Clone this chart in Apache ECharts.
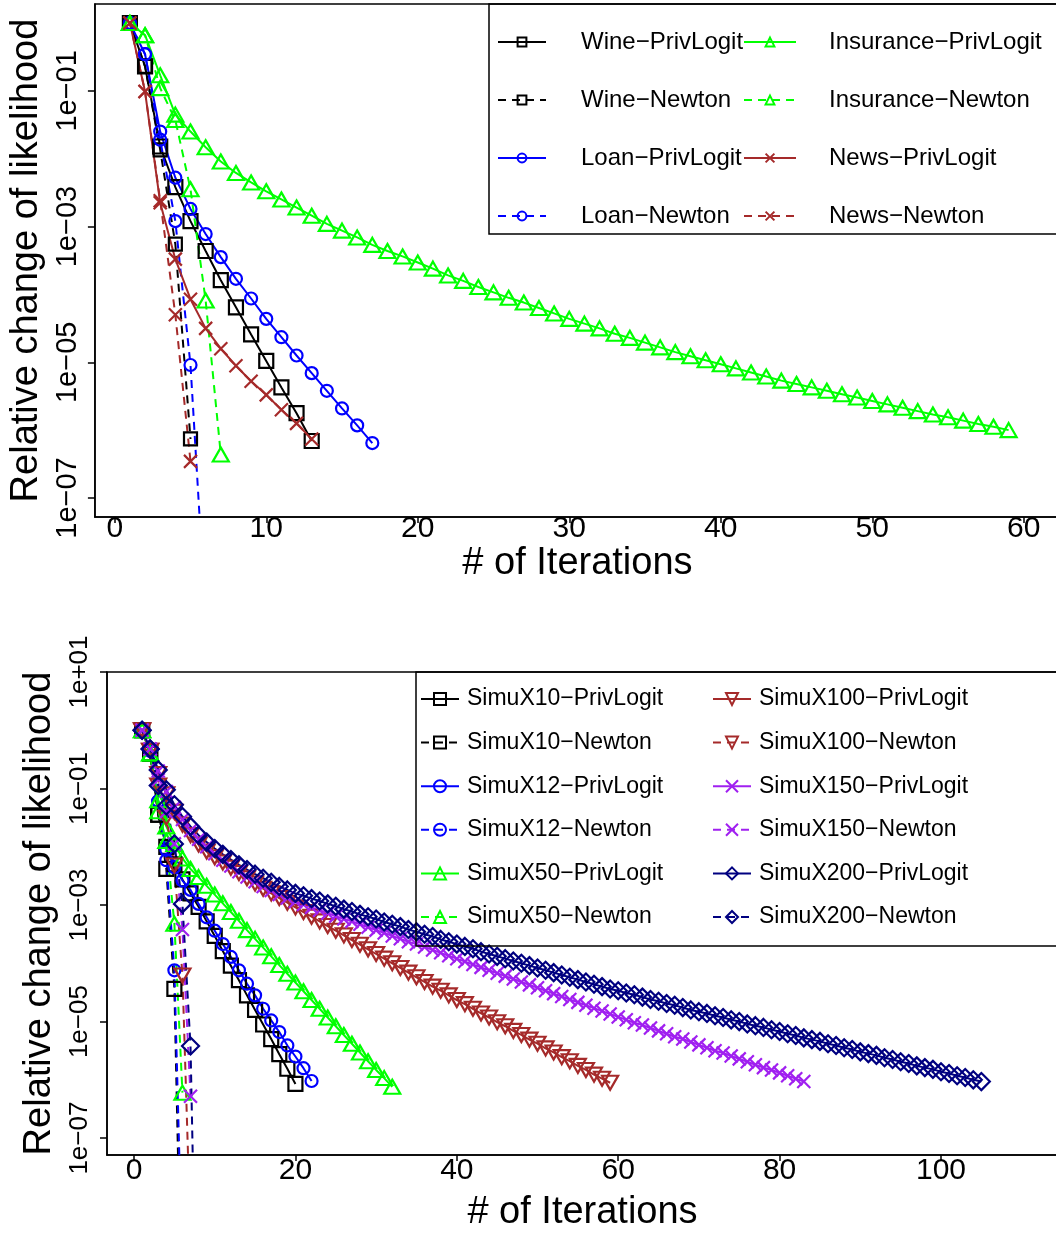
<!DOCTYPE html>
<html><head><meta charset="utf-8">
<script src="https://cdn.jsdelivr.net/npm/echarts@6/dist/echarts.min.js"></script>
<style>html,body{margin:0;padding:0;background:#fff;overflow:hidden;width:1056px;height:1233px}#c{width:1130px;height:1233px}</style>
</head><body><div id="c"></div>
<script>
// ---- tick labels ----
const topIterTicks = [0, 10, 20, 30, 40, 50, 60];
const bottomIterTicks = [0, 20, 40, 60, 80, 100];
const topYTicks = [1e-7, 1e-5, 1e-3, 1e-1];
const bottomYTicks = [1e-7, 1e-5, 1e-3, 1e-1, 1e1];
const threshold = 1e-6;

// ---- series values: log10 of relative change of likelihood, iteration 1..n ----
// top panel
const wineLogit = [0,-0.64,-1.82,-2.42,-2.92,-3.36,-3.79,-4.19,-4.59,-4.98,-5.37,-5.75,-6.16];
const wineNewton = [0,-0.64,-1.87,-3.26,-6.13];
const loanLogit = [0,-0.46,-1.60,-2.28,-2.74,-3.11,-3.45,-3.77,-4.06,-4.36,-4.63,-4.90,-5.16,-5.42,-5.68,-5.93,-6.19];
const loanNewton = [0,-0.46,-1.72,-2.92,-5.04,-8.77];
const insuranceLogit = [0,-0.18,-0.77,-1.35,-1.60,-1.83,-2.04,-2.21,-2.35,-2.48,-2.60,-2.72,-2.84,-2.96,-3.06,-3.16,-3.27,-3.36,-3.44,-3.53,
  -3.62,-3.72,-3.80,-3.89,-3.97,-4.05,-4.12,-4.20,-4.28,-4.36,-4.43,-4.50,-4.58,-4.64,-4.71,-4.78,-4.85,-4.91,-4.97,-5.03,
  -5.09,-5.15,-5.21,-5.27,-5.32,-5.37,-5.42,-5.47,-5.52,-5.57,-5.62,-5.67,-5.72,-5.77,-5.81,-5.86,-5.91,-5.95,-6.00];
const insuranceNewton = [0,-0.18,-0.96,-1.43,-2.45,-4.09,-6.36];
const newsLogit = [0,-1.01,-2.65,-3.48,-4.07,-4.50,-4.80,-5.05,-5.28,-5.48,-5.70,-5.90,-6.13];
const newsNewton = [0,-1.01,-2.62,-4.30,-6.46];

// bottom panel
const x10Logit = [0,-0.40,-1.45,-2.00,-2.30,-2.56,-2.80,-3.03,-3.28,-3.53,-3.79,-4.04,-4.29,-4.55,-4.80,-5.05,-5.30,-5.56,-5.81,-6.07];
const x10Newton = [0,-0.40,-1.45,-2.38,-4.44,-10.8];
const x12Logit = [0,-0.35,-1.22,-2.05,-2.35,-2.58,-2.74,-2.98,-3.21,-3.44,-3.67,-3.89,-4.12,-4.35,-4.55,-4.78,-4.98,-5.18,-5.41,-5.60,-5.80,-6.02];
const x12Newton = [0,-0.35,-1.22,-2.23,-4.12,-9.3];
const x50Logit = [0,-0.40,-1.20,-1.65,-1.95,-2.20,-2.38,-2.52,-2.67,-2.82,-2.97,-3.12,-3.27,-3.43,-3.58,-3.73,-3.88,-4.03,-4.18,-4.33,
  -4.48,-4.63,-4.78,-4.93,-5.08,-5.23,-5.38,-5.53,-5.68,-5.83,-5.97,-6.12];
const x50Newton = [0,-0.40,-1.39,-1.90,-3.32,-6.22];
const x100Logit = [0,-0.35,-0.75,-1.10,-1.40,-1.62,-1.80,-1.96,-2.08,-2.18,-2.27,-2.36,-2.45,-2.54,-2.63,-2.72,-2.80,-2.88,-2.96,-3.04,
  -3.12,-3.20,-3.28,-3.36,-3.44,-3.52,-3.60,-3.68,-3.76,-3.84,-3.92,-4.00,-4.08,-4.16,-4.24,-4.32,-4.40,-4.47,-4.55,-4.63,
  -4.70,-4.78,-4.86,-4.93,-5.01,-5.08,-5.16,-5.23,-5.31,-5.38,-5.46,-5.53,-5.61,-5.68,-5.76,-5.83,-5.91,-5.98,-6.05];
const x100Newton = [0,-0.35,-0.95,-1.50,-2.32,-4.21,-8.66];
const x150Logit = [0,-0.32,-0.70,-1.05,-1.32,-1.53,-1.72,-1.87,-2.00,-2.12,-2.23,-2.33,-2.43,-2.52,-2.60,-2.68,-2.75,-2.82,-2.88,-2.94,
  -2.99,-3.04,-3.09,-3.14,-3.19,-3.24,-3.28,-3.33,-3.38,-3.43,-3.48,-3.53,-3.58,-3.63,-3.67,-3.72,-3.77,-3.82,-3.87,-3.92,
  -3.97,-4.02,-4.07,-4.12,-4.17,-4.22,-4.27,-4.32,-4.37,-4.42,-4.47,-4.52,-4.57,-4.62,-4.67,-4.72,-4.77,-4.82,-4.87,-4.92,
  -4.97,-5.02,-5.06,-5.11,-5.16,-5.21,-5.26,-5.30,-5.35,-5.40,-5.45,-5.50,-5.54,-5.59,-5.64,-5.69,-5.74,-5.79,-5.83,-5.88,
  -5.93,-5.98,-6.03];
const x150Newton = [0,-0.32,-0.85,-1.40,-1.95,-3.42,-6.28];
const x200Logit = [0,-0.32,-0.68,-1.02,-1.28,-1.48,-1.65,-1.80,-1.92,-2.03,-2.13,-2.22,-2.31,-2.39,-2.47,-2.54,-2.61,-2.68,-2.74,-2.80,
  -2.84,-2.89,-2.93,-2.98,-3.02,-3.07,-3.11,-3.16,-3.20,-3.24,-3.29,-3.33,
  -3.37,-3.42,-3.46,-3.50,-3.54,-3.59,-3.63,-3.67,-3.71,-3.75,-3.80,-3.84,-3.88,
  -3.92,-3.96,-4.00,-4.04,-4.08,-4.12,-4.16,-4.20,-4.24,-4.28,-4.32,-4.36,-4.40,
  -4.44,-4.47,-4.51,-4.54,-4.58,-4.62,-4.65,-4.69,-4.72,-4.76,-4.80,-4.83,
  -4.86,-4.90,-4.93,-4.97,-5.00,-5.04,-5.07,-5.10,-5.14,-5.17,-5.21,-5.24,-5.28,-5.31,-5.34,-5.38,-5.41,-5.45,-5.48,-5.52,
  -5.55,-5.58,-5.62,-5.65,-5.69,-5.72,-5.76,-5.79,-5.82,-5.86,-5.89,-5.93,-5.96,-6.00,-6.03];
const x200Newton = [0,-0.32,-0.95,-1.30,-1.95,-2.98,-5.42,-12.3];

// ---- styling ----
const FONT = "'Liberation Sans', Arial, Helvetica, sans-serif";
const C = {black:'#000000', blue:'#0000FF', green:'#00FF00', brown:'#A52A2A', purple:'#A020F0', navy:'#000080', red:'#FF0000'};
const SYM = {
  square: 'rect', circle: 'circle', triangle: 'triangle', diamond: 'diamond',
  cross: 'path://M0,0L10,10M10,0L0,10'
};

function line(name, vals, g, color, symbol, size, dashed, rotate) {
  return {
    name: name, type: 'line', xAxisIndex: g, yAxisIndex: g,
    data: vals.map((e, k) => [k + 1, Math.pow(10, e)]),
    symbol: symbol, symbolSize: size, symbolRotate: rotate || 0,
    showAllSymbol: true, clip: true, animation: false,
    lineStyle: {color: color, width: 2, type: dashed ? [8, 6] : 'solid'},
    itemStyle: {color: 'rgba(0,0,0,0)', borderColor: color, borderWidth: 2.2},
    emphasis: {disabled: true}
  };
}
function expLabel(v) {
  const e = Math.round(Math.log10(v));
  return '1e' + (e < 0 ? '\u2212' : '+') + String(Math.abs(e)).padStart(2, '0');
}

const series = [
  line('Wine\u2212PrivLogit', wineLogit, 0, C.black, SYM.square, 14, false),
  line('Wine\u2212Newton', wineNewton, 0, C.black, SYM.square, 13, true),
  line('Loan\u2212PrivLogit', loanLogit, 0, C.blue, SYM.circle, 12, false),
  line('Loan\u2212Newton', loanNewton, 0, C.blue, SYM.circle, 12, true),
  line('Insurance\u2212PrivLogit', insuranceLogit, 0, C.green, SYM.triangle, [16, 14], false),
  line('Insurance\u2212Newton', insuranceNewton, 0, C.green, SYM.triangle, [16, 14], true),
  line('News\u2212PrivLogit', newsLogit, 0, C.brown, SYM.cross, 13, false),
  line('News\u2212Newton', newsNewton, 0, C.brown, SYM.cross, 13, true),

  line('SimuX10\u2212PrivLogit', x10Logit, 1, C.black, SYM.square, 14, false),
  line('SimuX10\u2212Newton', x10Newton, 1, C.black, SYM.square, 14, true),
  line('SimuX12\u2212PrivLogit', x12Logit, 1, C.blue, SYM.circle, 12, false),
  line('SimuX12\u2212Newton', x12Newton, 1, C.blue, SYM.circle, 12, true),
  line('SimuX50\u2212PrivLogit', x50Logit, 1, C.green, SYM.triangle, [16, 14], false),
  line('SimuX50\u2212Newton', x50Newton, 1, C.green, SYM.triangle, [16, 14], true),
  line('SimuX100\u2212PrivLogit', x100Logit, 1, C.brown, SYM.triangle, [16, 14], false, 180),
  line('SimuX100\u2212Newton', x100Newton, 1, C.brown, SYM.triangle, [16, 14], true, 180),
  line('SimuX150\u2212PrivLogit', x150Logit, 1, C.purple, SYM.cross, 13, false),
  line('SimuX150\u2212Newton', x150Newton, 1, C.purple, SYM.cross, 13, true),
  line('SimuX200\u2212PrivLogit', x200Logit, 1, C.navy, SYM.diamond, 17, false),
  line('SimuX200\u2212Newton', x200Newton, 1, C.navy, SYM.diamond, 17, true)
];
// threshold lines
[0, 8].forEach(i => {
  series[i].markLine = {
    silent: true, symbol: ['none', 'none'], animation: false,
    label: {show: false}, emphasis: {disabled: true},
    lineStyle: {color: C.red, width: 2, type: 'solid'},
    data: [{yAxis: threshold}]
  };
});

function xAxis(g, min, max, ticks, margin, gap) {
  return {
    type: 'value', gridIndex: g, min: min, max: max, position: 'bottom',
    axisLine: {show: true, onZero: false, lineStyle: {color: '#000', width: 1.5}},
    axisTick: {show: true, customValues: ticks, length: 6, lineStyle: {color: '#000', width: 1.5}},
    axisLabel: {customValues: ticks, fontSize: 30, margin: margin, color: '#000', fontFamily: FONT},
    splitLine: {show: false},
    name: '# of Iterations', nameLocation: 'middle', nameGap: gap,
    nameTextStyle: {fontSize: 38, color: '#000', fontFamily: FONT}
  };
}
function yAxis(g, min, max, ticks, fs, margin, gap) {
  return {
    type: 'log', logBase: 10, gridIndex: g, min: min, max: max,
    axisLine: {show: true, onZero: false, lineStyle: {color: '#000', width: 1.5}},
    axisTick: {show: true, customValues: ticks, length: 7, lineStyle: {color: '#000', width: 1.5}},
    axisLabel: {customValues: ticks, rotate: 90, fontSize: fs, margin: margin, color: '#000', fontFamily: FONT, formatter: expLabel},
    splitLine: {show: false}, minorTick: {show: false},
    name: 'Relative change of likelihood', nameLocation: 'middle', nameRotate: 90, nameGap: gap,
    nameTextStyle: {fontSize: 38, color: '#000', fontFamily: FONT}
  };
}
function legend(names, left, top, iw, ih, gap, fs, pad) {
  return {
    data: names, left: left, top: top, orient: 'vertical', padding: 0,
    itemWidth: iw, itemHeight: ih, itemGap: gap, selectedMode: false,
    textStyle: {fontSize: fs, lineHeight: 24, color: '#000', fontFamily: FONT, padding: [0, 0, 0, pad]}
  };
}

const option = {
  animation: false,
  backgroundColor: '#ffffff',
  textStyle: {fontFamily: FONT},
  grid: [
    {left: 88, top: 4, width: 972, height: 513, show: true, borderColor: '#000', borderWidth: 1.5, backgroundColor: 'rgba(0,0,0,0)'},
    {left: 107, top: 672, width: 951, height: 485, show: true, borderColor: '#000', borderWidth: 1.5, backgroundColor: 'rgba(0,0,0,0)'}
  ],
  xAxis: [
    xAxis(0, -1.31, 62.39, topIterTicks, -3, 21),
    xAxis(1, -3.35, 114.5, bottomIterTicks, 1, 39)
  ],
  yAxis: [
    yAxis(0, Math.pow(10, -7.28), Math.pow(10, 0.28), topYTicks, 29, 12, 34),
    yAxis(1, Math.pow(10, -7.29), Math.pow(10, 1), bottomYTicks, 26, 14, 48)
  ],
  legend: [
    legend(series.slice(0, 4).map(s => s.name), 497, 30, 48, 11, 34, 24, 30),
    legend(series.slice(4, 8).map(s => s.name), 743, 30, 52, 11, 34, 24, 28),
    legend(series.slice(8, 14).map(s => s.name), 420, 687, 38, 15, 19.6, 23, 3),
    legend(series.slice(14, 20).map(s => s.name), 712, 687, 38, 15, 19.6, 23, 3)
  ],
  graphic: [
    {type: 'rect', shape: {x: 489, y: 4, width: 700, height: 230}, style: {fill: 'none', stroke: '#000', lineWidth: 1.5}, z: 100, silent: true},
    {type: 'rect', shape: {x: 416, y: 672, width: 700, height: 274}, style: {fill: 'none', stroke: '#000', lineWidth: 1.5}, z: 100, silent: true}
  ],
  series: series
};
const chart = echarts.init(document.getElementById('c'), null, {renderer: 'canvas'});
chart.setOption(option);
</script>
</body></html>
